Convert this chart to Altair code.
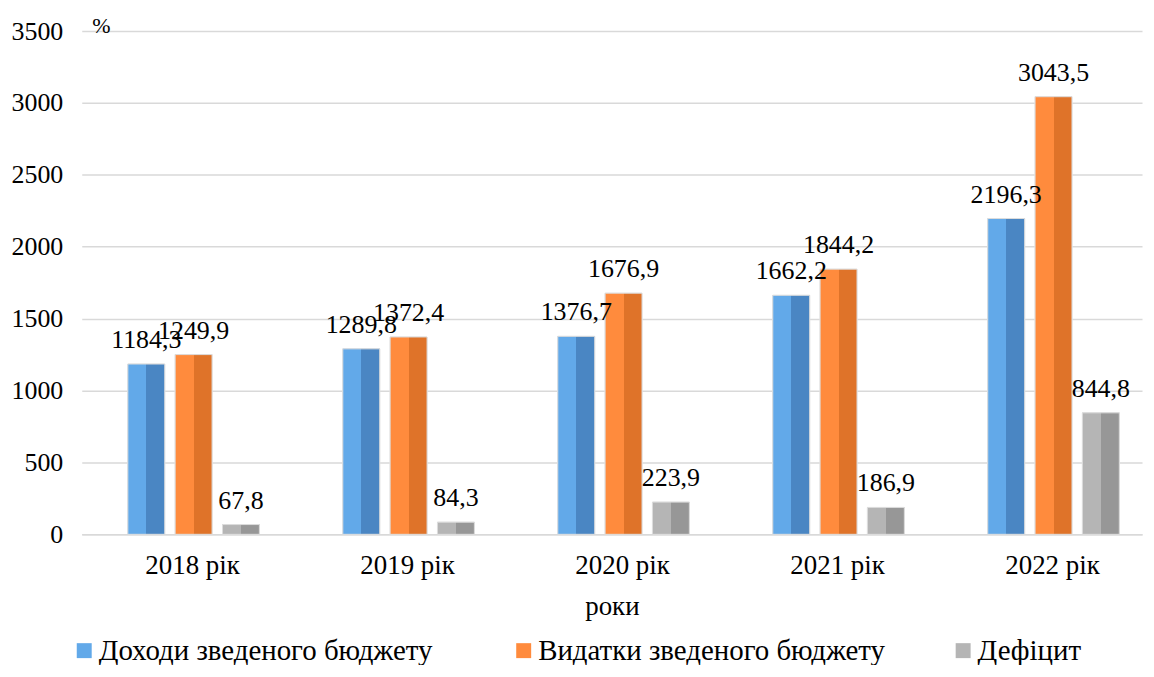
import altair as alt
import pandas as pd

years = ["2018 рік", "2019 рік", "2020 рік", "2021 рік", "2022 рік"]
series = ["Доходи зведеного бюджету", "Видатки зведеного бюджету", "Дефіцит"]
revenues = [1184.3, 1289.8, 1376.7, 1662.2, 2196.3]
expenses = [1249.9, 1372.4, 1676.9, 1844.2, 3043.5]
deficit = [67.8, 84.3, 223.9, 186.9, 844.8]

light = ["#62a9e9", "#ff8b3d", "#b5b5b5"]
dark = ["#4a86c3", "#df7329", "#979797"]

rows = []
for vals, s in zip([revenues, expenses, deficit], series):
    for y, v in zip(years, vals):
        rows.append({"year": y, "series": s, "value": v,
                     "label": f"{v:.1f}".replace(".", ",")})
df = pd.DataFrame(rows)

FONT = "Liberation Serif"

x_enc = alt.X("year:N", sort=years, title="роки",
              scale=alt.Scale(paddingInner=0.388, paddingOuter=0.16, align=0.67),
              axis=alt.Axis(labelAngle=0, labelFontSize=27, labelFont=FONT,
                            labelColor="black", titleFont=FONT, titleFontSize=27,
                            titleFontWeight="normal", titleColor="black",
                            labelPadding=18, titlePadding=15, ticks=False,
                            labelOffset=-1,
                            domainColor="#d9d9d9", domainWidth=1.5))
xo_enc = alt.XOffset("series:N", sort=series,
                     scale=alt.Scale(paddingInner=0.22, paddingOuter=0))
y_enc = alt.Y("value:Q", scale=alt.Scale(domain=[0, 3500]),
              axis=alt.Axis(values=list(range(0, 3501, 500)), format="d",
                            labelFontSize=26,
                            labelFont=FONT, labelColor="black", labelPadding=19,
                            ticks=False, domain=False, gridColor="#d9d9d9",
                            gridWidth=1.5, title="%", titleAngle=0,
                            titleFont=FONT, titleFontSize=22,
                            titleFontWeight="normal", titleColor="black",
                            titleAlign="left", titleBaseline="alphabetic",
                            titleX=10, titleY=1))

base = alt.Chart(df).mark_bar(stroke="#e8e8e8", strokeWidth=1).encode(
    x=x_enc, xOffset=xo_enc, y=y_enc,
    color=alt.Color("series:N", sort=series,
                    scale=alt.Scale(domain=series, range=light),
                    legend=alt.Legend(title=None, orient="none", direction="horizontal",
                                      legendX=-12, legendY=607, columns=3,
                                      gridAlign="all", columnPadding=63,
                                      labelFont=FONT, labelFontSize=29,
                                      labelColor="black",
                                      symbolType="square",
                                      symbolSize=225, symbolStrokeWidth=0,
                                      labelLimit=600, labelOffset=0)))

layers = [base]
for s, l, d in zip(series, light, dark):
    grad = alt.Gradient(gradient="linear",
                        stops=[alt.GradientStop(color=l, offset=0),
                               alt.GradientStop(color=l, offset=0.5),
                               alt.GradientStop(color=d, offset=0.5),
                               alt.GradientStop(color=d, offset=1)],
                        x1=0, x2=1, y1=0, y2=0)
    layers.append(
        alt.Chart(df).transform_filter(alt.datum.series == s)
        .mark_bar(color=grad, stroke="#dddddd", strokeWidth=1)
        .encode(x=alt.X("year:N", sort=years), xOffset=alt.XOffset("series:N", sort=series),
                y="value:Q")
    )

text = alt.Chart(df).mark_text(font=FONT, fontSize=26, color="black",
                               baseline="alphabetic", dy=-16).encode(
    x=alt.X("year:N", sort=years), xOffset=alt.XOffset("series:N", sort=series),
    y="value:Q", text="label:N")
layers.append(text)

chart = alt.layer(*layers).properties(
    width=1064, height=505,
    padding={"left": 74, "top": 22, "right": 4, "bottom": 130},
    autosize=alt.AutoSizeParams(type="none"),
).configure_view(stroke=None)

chart.save("out.html", embed_options={"renderer": "svg", "actions": False})
